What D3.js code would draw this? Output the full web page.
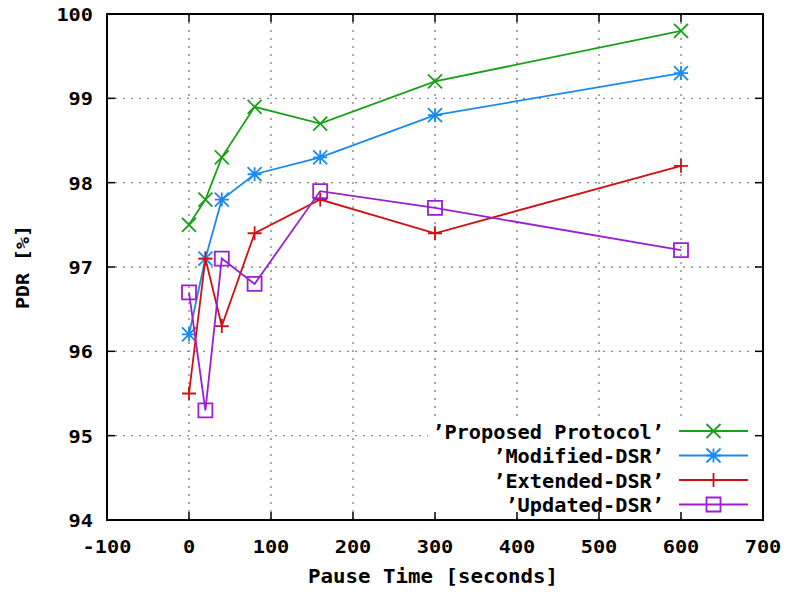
<!DOCTYPE html>
<html>
<head>
<meta charset="utf-8">
<script src="https://cdn.jsdelivr.net/npm/d3@7"></script>
<style>
    body { margin: 0; background: #fff; }
    svg text { font-family: "DejaVu Sans Mono", "Liberation Mono", monospace; font-weight: bold; fill: #000; }
</style>
</head>
<body>
<svg id="chart"></svg>
<script>
// pause times (seconds)
const pauseTimes = [0, 20, 40, 80, 160, 300, 600];

const proposedProtocol = [97.5, 97.8, 98.3, 98.9, 98.7, 99.2, 99.8];
const modifiedDSR = [96.2, 97.1, 97.8, 98.1, 98.3, 98.8, 99.3];
const extendedDSR = [95.5, 97.1, 96.3, 97.4, 97.8, 97.4, 98.2];
const updatedDSR = [96.7, 95.3, 97.1, 96.8, 97.9, 97.7, 97.2];

const seriesNames = ["’Proposed Protocol’", "’Modified-DSR’", "’Extended-DSR’", "’Updated-DSR’"];
const xTicks = [-100, 0, 100, 200, 300, 400, 500, 600, 700];
const yTicks = [94, 95, 96, 97, 98, 99, 100];

const width = 792;
const height = 592;
const margin = { top: 14, right: 29, bottom: 72, left: 107 };
const charW = 12.2; // the original glyphs are stretched wide

const series = [
    { name: seriesNames[0], values: proposedProtocol, color: "#19a019", marker: "x" },
    { name: seriesNames[1], values: modifiedDSR, color: "#1a8af0", marker: "star" },
    { name: seriesNames[2], values: extendedDSR, color: "#d01010", marker: "plus" },
    { name: seriesNames[3], values: updatedDSR, color: "#9a1fcf", marker: "box" }
];

const svg = d3.select('#chart')
    .attr('width', width)
    .attr('height', height);

// wide monospace label
const label = (parent, str, size, cw) => parent.append('text')
    .attr('font-size', size)
    .attr('textLength', String(str).length * (cw || charW))
    .attr('lengthAdjust', 'spacingAndGlyphs')
    .text(str);

const x = d3.scaleLinear()
    .domain([-100, 700])
    .range([margin.left, width - margin.right]);

const y = d3.scaleLinear()
    .domain([94, 100])
    .range([height - margin.bottom, margin.top]);

const x0 = x.range()[0], x1 = x.range()[1];
const y0 = y.range()[0], y1 = y.range()[1];

//grid
svg.append('g').selectAll('line')
    .data(xTicks.slice(1, -1))
    .enter().append('line')
    .attr('x1', d => x(d)).attr('x2', d => x(d))
    .attr('y1', y0).attr('y2', y1)
    .attr('stroke', '#888').attr('stroke-width', 1.4)
    .attr('stroke-dasharray', '2,6');

svg.append('g').selectAll('line')
    .data(yTicks.slice(1, -1))
    .enter().append('line')
    .attr('x1', x0).attr('x2', x1)
    .attr('y1', d => y(d)).attr('y2', d => y(d))
    .attr('stroke', '#888').attr('stroke-width', 1.4)
    .attr('stroke-dasharray', '2,6');

//legend background hides grid
svg.append('rect')
    .attr('x', 428).attr('y', 418)
    .attr('width', x1 - 430).attr('height', y0 - 420)
    .attr('fill', '#fff');

//axes with inward ticks, mirrored
const tickLen = 8;
const axisG = svg.append('g');
xTicks.forEach(t => {
    axisG.append('line').attr('x1', x(t)).attr('x2', x(t)).attr('y1', y0).attr('y2', y0 - tickLen)
        .attr('stroke', '#000').attr('stroke-width', 1.5);
    axisG.append('line').attr('x1', x(t)).attr('x2', x(t)).attr('y1', y1).attr('y2', y1 + tickLen)
        .attr('stroke', '#000').attr('stroke-width', 1.5);
    label(axisG, t, 17.5)
        .attr('x', x(t)).attr('y', y0 + 33)
        .attr('text-anchor', 'middle');
});
yTicks.forEach(t => {
    axisG.append('line').attr('x1', x0).attr('x2', x0 + tickLen).attr('y1', y(t)).attr('y2', y(t))
        .attr('stroke', '#000').attr('stroke-width', 1.5);
    axisG.append('line').attr('x1', x1).attr('x2', x1 - tickLen).attr('y1', y(t)).attr('y2', y(t))
        .attr('stroke', '#000').attr('stroke-width', 1.5);
    label(axisG, t, 17.5)
        .attr('x', x0 - 14).attr('y', y(t) + 7)
        .attr('text-anchor', 'end');
});

svg.append('rect')
    .attr('x', x0).attr('y', y1)
    .attr('width', x1 - x0).attr('height', y0 - y1)
    .attr('fill', 'none').attr('stroke', '#000').attr('stroke-width', 2);

//axis titles
label(svg, 'Pause Time [seconds]', 19, 12.5)
    .attr('x', 433).attr('y', 583)
    .attr('text-anchor', 'middle');

label(svg, 'PDR [%]', 18, 12)
    .attr('transform', `translate(29, ${(y0 + y1) / 2}) rotate(-90)`)
    .attr('text-anchor', 'middle');

//markers
function drawMarker(g, kind, cx, cy, color) {
    const s = 7;
    const path = d3.path();
    if (kind === 'x' || kind === 'star') {
        path.moveTo(cx - s, cy - s); path.lineTo(cx + s, cy + s);
        path.moveTo(cx - s, cy + s); path.lineTo(cx + s, cy - s);
    }
    if (kind === 'plus' || kind === 'star') {
        path.moveTo(cx - s, cy); path.lineTo(cx + s, cy);
        path.moveTo(cx, cy - s); path.lineTo(cx, cy + s);
    }
    if (kind === 'box') {
        path.rect(cx - s, cy - s, 2 * s, 2 * s);
    }
    g.append('path')
        .attr('d', path.toString())
        .attr('fill', 'none')
        .attr('stroke', color)
        .attr('stroke-width', 1.8);
}

const line = d3.line()
    .x((d, i) => x(pauseTimes[i]))
    .y(d => y(d));

series.forEach(s => {
    const g = svg.append('g');
    g.append('path').datum(s.values)
        .attr('fill', 'none')
        .attr('stroke', s.color)
        .attr('stroke-width', 1.8)
        .attr('d', line);
    s.values.forEach((v, i) => drawMarker(g, s.marker, x(pauseTimes[i]), y(v), s.color));
});

//legend
const legendY = [431, 455.5, 480, 504.5];
series.forEach((s, i) => {
    const ly = legendY[i];
    label(svg, s.name, 19)
        .attr('x', 664).attr('y', ly + 7.5)
        .attr('text-anchor', 'end');
    svg.append('line')
        .attr('x1', 679).attr('x2', 748)
        .attr('y1', ly).attr('y2', ly)
        .attr('stroke', s.color).attr('stroke-width', 1.8);
    drawMarker(svg, s.marker, 713.5, ly, s.color);
});
</script>
</body>
</html>
